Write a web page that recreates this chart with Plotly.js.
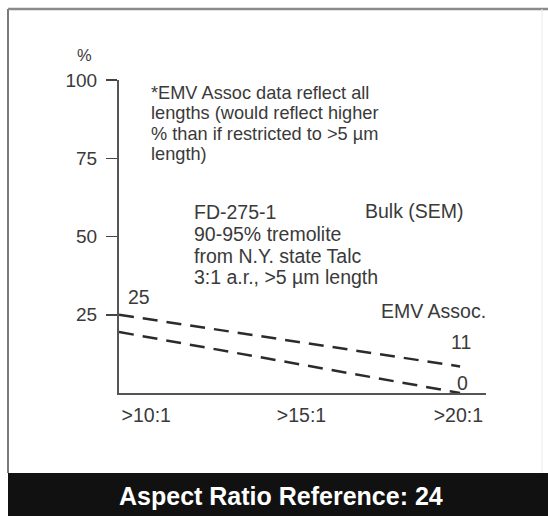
<!DOCTYPE html>
<html>
<head>
<meta charset="utf-8">
<script src="https://cdn.plot.ly/plotly-3.0.1.min.js"></script>
<style>html,body{margin:0;padding:0;background:#fff;}#chart{width:548px;height:516px;}</style>
</head>
<body>
<div id="chart"></div>
<script>
// ---- data ----
const categories = ['>10:1', '>15:1', '>20:1'];
const seriesX = [10, 20];                 // aspect ratio start / end
const upperValues = [25, 8.5];            // upper dashed line (%)
const lowerValues = [19.5, 0];            // lower dashed line (%)
const yTicks = [25, 50, 75, 100];
const noteLines = ['*EMV Assoc data reflect all', 'lengths (would reflect higher', '% than if restricted to >5 \u00b5m', 'length)'];
const sampleLines = ['FD-275-1', '90-95% tremolite', 'from N.Y. state Talc', '3:1 a.r., >5 \u00b5m length'];
const pointLabels = ['25', '11', '0'];

// ---- layout helpers (pixel -> paper) ----
const W = 548, H = 516;
const L = 119, R = 486, T = 80, B = 393;
const xp = px => (px - L) / (R - L);
const yp = py => (B - py) / (B - T);
const FONT = 'Liberation Sans, Arial, Helvetica, sans-serif';
const TXT = '#3a3a3a';
const FS = 19.5;

const dashLine = {color: '#2b2b2b', width: 2.5, dash: '15px,9px'};
const traces = [
  {x: seriesX, y: upperValues, mode: 'lines', line: dashLine, cliponaxis: false, hoverinfo: 'skip'},
  {x: seriesX, y: lowerValues, mode: 'lines', line: dashLine, cliponaxis: false, hoverinfo: 'skip'}
];

const ann = [];
function txt(text, x, y, xa, size, extra) {
  ann.push(Object.assign({text: text, xref: 'paper', yref: 'paper', x: xp(x), y: yp(y),
    xanchor: xa, yanchor: 'middle', showarrow: false,
    font: {family: FONT, size: size, color: TXT}}, extra || {}));
}
noteLines.forEach((t, i) => txt(t, 149, 93 + i * 20.3, 'left', 18.2));
sampleLines.forEach((t, i) => txt(t, 192, 212 + i * 21.8, 'left', FS));
txt('Bulk (SEM)', 466, 211, 'right', FS);
txt('EMV Assoc.', 488, 311, 'right', FS);
txt(pointLabels[0], 139, 297, 'center', FS);
txt(pointLabels[1], 461, 342, 'center', FS);
txt(pointLabels[2], 462, 383, 'center', FS);
txt('%', 84, 55, 'center', 16.5);
txt('Aspect Ratio Reference: 24', 281, 496, 'center', 25,
    {font: {family: FONT, size: 25, color: '#ffffff', weight: 'bold'}});

// tick positions for category labels
const tickPos = [10.8, 15.35, 19.95];

const layout = {
  width: W, height: H,
  margin: {l: L, r: W - R, t: T, b: H - B, pad: 0},
  paper_bgcolor: '#ffffff', plot_bgcolor: 'rgba(0,0,0,0)',
  showlegend: false,
  font: {family: FONT, color: TXT, size: FS},
  xaxis: {range: [10, 20.76], showgrid: false, zeroline: false, showline: true,
    linecolor: '#555555', linewidth: 2, ticks: '', tickvals: tickPos, ticktext: categories,
    tickfont: {family: FONT, size: FS, color: TXT}, ticklabelstandoff: 4, fixedrange: true},
  yaxis: {range: [0, 100], showgrid: false, zeroline: false, showline: true,
    linecolor: '#555555', linewidth: 2, ticks: 'outside', ticklen: 11, tickwidth: 1.5,
    tickcolor: '#444444', tickvals: yTicks, ticktext: yTicks.map(String),
    tickfont: {family: FONT, size: 19, color: TXT}, ticklabelstandoff: 5, fixedrange: true},
  annotations: ann,
  shapes: [
    {type: 'rect', xref: 'paper', yref: 'paper', x0: xp(8), x1: xp(550), y0: yp(520), y1: yp(473),
      fillcolor: '#111111', line: {width: 0}, layer: 'below'},
    {type: 'line', xref: 'paper', yref: 'paper', x0: xp(8), x1: xp(8), y0: yp(9), y1: yp(473),
      line: {color: '#7a7a7a', width: 2}},
    {type: 'line', xref: 'paper', yref: 'paper', x0: xp(8), x1: xp(548), y0: yp(9), y1: yp(9),
      line: {color: '#8a8a8a', width: 2.5}},
    {type: 'line', xref: 'paper', yref: 'paper', x0: xp(542), x1: xp(542), y0: yp(9), y1: yp(473),
      line: {color: '#e8ecef', width: 1}}
  ]
};

Plotly.newPlot('chart', traces, layout, {staticPlot: true, displayModeBar: false});
</script>
</body>
</html>
